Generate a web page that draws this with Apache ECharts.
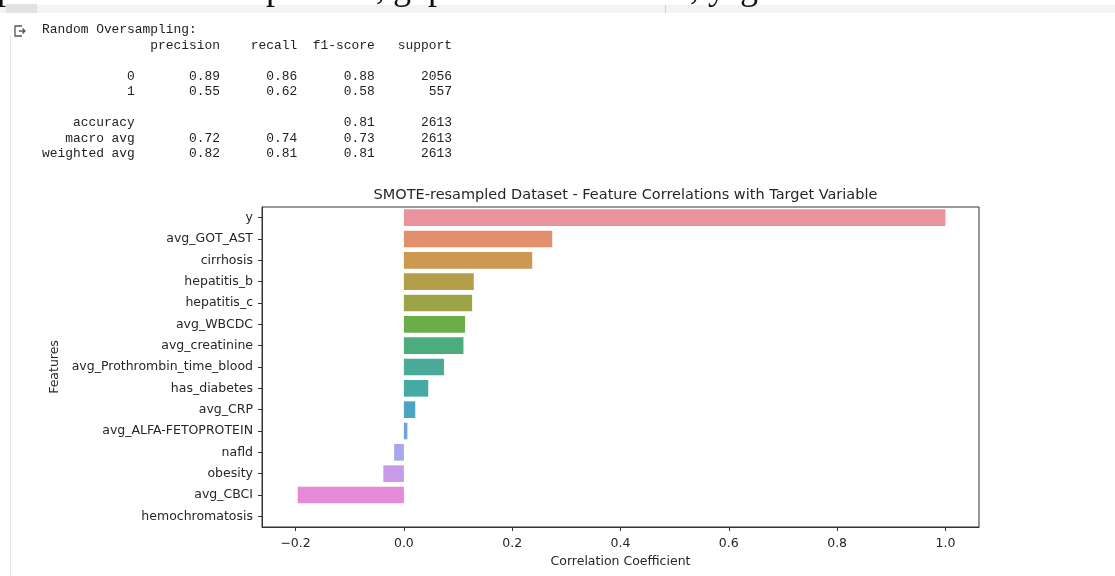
<!DOCTYPE html>
<html>
<head>
<meta charset="utf-8">
<script src="https://cdn.jsdelivr.net/npm/echarts@6/dist/echarts.min.js"></script>
<style>
  html, body { margin: 0; padding: 0; background: #ffffff; }
  #wrap { position: relative; width: 1115px; height: 576px; overflow: hidden; background: #fff; }
  #chart { position: absolute; left: 0; top: 0; width: 1115px; height: 576px; }
  #band { position: absolute; left: 0; top: 5px; width: 1115px; height: 8px; background: #f3f3f3; }
  #bandLeft { position: absolute; left: 6px; top: 4px; width: 31px; height: 9px; background: #e2e2e2; }
  #bandSep { position: absolute; left: 665px; top: 5px; width: 1px; height: 8px; background: #cfcfcf; }
  #vline { position: absolute; left: 10px; top: 36px; width: 1px; height: 540px; background: #e3e3e3; }
  .frag { position: absolute; top: -31px; font-family: "Liberation Serif", serif; font-size: 36px; line-height: 36px; color: #111; }
  #report { position: absolute; left: 42px; top: 22px; margin: 0; font-family: "Liberation Mono", monospace; font-size: 12.9px; line-height: 15.5px; color: #222; white-space: pre; }
  #icon { position: absolute; left: 13px; top: 24px; }
</style>
</head>
<body>
<div id="wrap">
  <div id="chart"></div>
  <div id="band"></div>
  <div id="bandLeft"></div>
  <div id="bandSep"></div>
  <div id="vline"></div>
  <span class="frag" style="left:-3px">p</span>
  <span class="frag" style="left:266px">p</span>
  <span class="frag" style="left:376px">,</span>
  <span class="frag" style="left:393px">g</span>
  <span class="frag" style="left:428px">p</span>
  <span class="frag" style="left:690px">,</span>
  <span class="frag" style="left:708px">y</span>
  <span class="frag" style="left:740px">g</span>
  <svg id="icon" width="14" height="14" viewBox="0 0 14 14">
    <path d="M9 2 H2 V12 H9" fill="none" stroke="#555" stroke-width="1.3"/>
    <path d="M6 7 H12 M9.5 4.5 L12 7 L9.5 9.5" fill="none" stroke="#555" stroke-width="1.3"/>
  </svg>
  <pre id="report"></pre>
</div>
<script>
// ---- classification report values ----
var reportTitle = "Random Oversampling:";
var reportHeaders = ["precision", "recall", "f1-score", "support"];
var classLabels = ["0", "1"];
var classPrecision = [0.89, 0.55];
var classRecall = [0.86, 0.62];
var classF1 = [0.88, 0.58];
var classSupport = [2056, 557];
var accuracyValue = 0.81;
var accuracySupport = 2613;
var avgLabels = ["macro avg", "weighted avg"];
var avgPrecision = [0.72, 0.82];
var avgRecall = [0.74, 0.81];
var avgF1 = [0.73, 0.81];
var avgSupport = [2613, 2613];

// ---- chart data ----
var chartTitle = "SMOTE-resampled Dataset - Feature Correlations with Target Variable";
var features = ["y", "avg_GOT_AST", "cirrhosis", "hepatitis_b", "hepatitis_c", "avg_WBCDC",
  "avg_creatinine", "avg_Prothrombin_time_blood", "has_diabetes", "avg_CRP",
  "avg_ALFA-FETOPROTEIN", "nafld", "obesity", "avg_CBCI", "hemochromatosis"];
var correlations = [1.0, 0.274, 0.237, 0.129, 0.126, 0.113, 0.110, 0.074, 0.045, 0.021,
  0.0065, -0.018, -0.038, -0.196, 0];
var xTicks = [-0.2, 0.0, 0.2, 0.4, 0.6, 0.8, 1.0];
var xAxisName = "Correlation Coefficient";
var yAxisName = "Features";

var palette = ["#e8939e", "#e38f6c", "#cd984f", "#b39f4a", "#9ca447", "#6aae4a", "#4bad7e",
  "#49aa98", "#47a9a4", "#4aa5c3", "#6ea3e1", "#a9a6ee", "#c99ae9", "#e48ad6", "#e78eb5"];

// build report text
function r(s, w) { s = String(s); while (s.length < w) s = " " + s; return s; }
var W = 12;
var lines = [];
lines.push(reportTitle);
lines.push(r("", W) + " " + reportHeaders.map(function (h) { return " " + r(h, 9); }).join(""));
lines.push("");
for (var i = 0; i < classLabels.length; i++) {
  lines.push(r(classLabels[i], W) + " " + " " + r(classPrecision[i].toFixed(2), 9) + " " + r(classRecall[i].toFixed(2), 9) +
    " " + r(classF1[i].toFixed(2), 9) + " " + r(classSupport[i], 9));
}
lines.push("");
lines.push(r("accuracy", W) + " " + " " + r("", 9) + " " + r("", 9) + " " + r(accuracyValue.toFixed(2), 9) + " " + r(accuracySupport, 9));
for (var j = 0; j < avgLabels.length; j++) {
  lines.push(r(avgLabels[j], W) + " " + " " + r(avgPrecision[j].toFixed(2), 9) + " " + r(avgRecall[j].toFixed(2), 9) +
    " " + r(avgF1[j].toFixed(2), 9) + " " + r(avgSupport[j], 9));
}
document.getElementById("report").textContent = lines.join("\n");

var chart = echarts.init(document.getElementById("chart"), null, { renderer: "canvas" });
var textColor = "#262626";
var fontFam = "DejaVu Sans, sans-serif";
chart.setOption({
  animation: false,
  backgroundColor: "#ffffff",
  title: {
    text: chartTitle,
    left: 620.5,
    textAlign: "center",
    top: 183,
    textStyle: { fontFamily: fontFam, fontSize: 14.5, fontWeight: "normal", color: textColor }
  },
  grid: {
    left: 262, right: 136, top: 207, bottom: 49,
    show: true, borderColor: "#333", borderWidth: 1, backgroundColor: "transparent"
  },
  xAxis: {
    type: "value",
    min: -0.262,
    max: 1.062,
    splitLine: { show: false },
    axisLine: { show: true, onZero: false, lineStyle: { color: "#333", width: 1 } },
    axisTick: { show: true, length: 4, inside: false, customValues: xTicks, lineStyle: { color: "#333" } },
    axisLabel: {
      customValues: xTicks, margin: 10, color: textColor, fontFamily: fontFam, fontSize: 12.5,
      formatter: function (v) { return (v < 0 ? "\u2212" : "") + Math.abs(v).toFixed(1); }
    },
    name: xAxisName,
    nameLocation: "middle",
    nameGap: 28,
    nameTextStyle: { color: textColor, fontFamily: fontFam, fontSize: 12.5 }
  },
  yAxis: {
    type: "category",
    data: features,
    inverse: true,
    axisLine: { show: true, onZero: false, lineStyle: { color: "#333", width: 1 } },
    axisTick: { show: true, length: 4, inside: false, alignWithLabel: true, lineStyle: { color: "#333", width: 1 } },
    axisLabel: { margin: 9, color: textColor, fontFamily: fontFam, fontSize: 12.5, interval: 0 },
    splitLine: { show: false },
    name: yAxisName,
    nameLocation: "middle",
    nameGap: 193,
    nameRotate: 90,
    nameTextStyle: { color: textColor, fontFamily: fontFam, fontSize: 12.5 }
  },
  series: [{
    type: "bar",
    data: correlations.map(function (v, k) { return { value: v, itemStyle: { color: palette[k] } }; }),
    barCategoryGap: "22%",
    itemStyle: { borderWidth: 0 }
  }]
});
</script>
</body>
</html>
